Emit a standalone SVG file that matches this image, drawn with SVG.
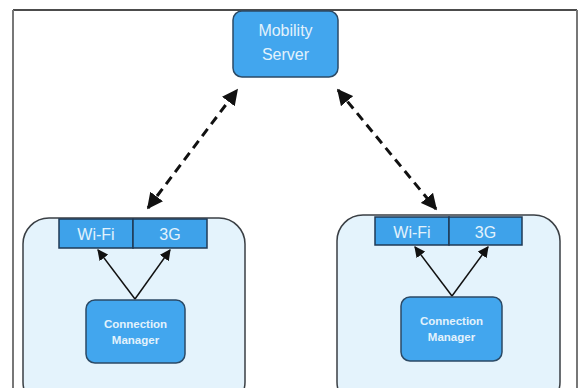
<svg xmlns="http://www.w3.org/2000/svg" width="582" height="388" viewBox="0 0 582 388">
<style>
.container{fill:#e4f3fc;stroke:#3a3f44;stroke-width:1.5}
.blue{fill:#42a6ee;stroke:#2b4a66;stroke-width:1.5}
.bar{fill:#3ea2ea;stroke:#1f3a55;stroke-width:1.5}
.lbl{font-family:"Liberation Sans",Arial,sans-serif;fill:#e2f2fc;text-anchor:middle}
.big{font-size:16px}
.bold{font-size:11.5px;font-weight:bold}
.solid{stroke:#111;stroke-width:1.5;fill:none}
.dash{stroke:#111;stroke-width:3;stroke-dasharray:9 6;fill:none}
</style>
<defs>
<marker id="ah" viewBox="0 0 10 10" refX="9" refY="5" markerWidth="11" markerHeight="11" markerUnits="userSpaceOnUse" orient="auto-start-reverse">
<path d="M0,0 L10,5 L0,10 z" fill="#111"/>
</marker>
<marker id="ahb" viewBox="0 0 10 10" refX="9" refY="5" markerWidth="16" markerHeight="16" markerUnits="userSpaceOnUse" orient="auto-start-reverse">
<path d="M0,0 L10,5 L0,10 z" fill="#111"/>
</marker>
</defs>
<rect width="582" height="388" fill="#fff"/>
<g id="frame">
<line x1="13" y1="10" x2="577" y2="10" stroke="#111" stroke-width="1.5"/>
<line x1="13" y1="10" x2="13" y2="388" stroke="#777" stroke-width="2"/>
<line x1="577" y1="10" x2="577" y2="388" stroke="#777" stroke-width="2"/>
</g>
<g id="mobility-server">
<rect x="233" y="11" width="105" height="66" rx="9" class="blue"/>
<text x="285.5" y="36" class="lbl big">Mobility</text>
<text x="285.5" y="60" class="lbl big">Server</text>
</g>
<g id="left-device">
<rect x="23" y="218" width="222" height="190" rx="26" class="container"/>
</g>
<g id="left-wifi">
<rect x="59" y="219" width="74" height="29" class="bar"/>
<text x="96" y="240" class="lbl big">Wi-Fi</text>
</g>
<g id="left-3g">
<rect x="133" y="219" width="74" height="29" class="bar"/>
<text x="170" y="240" class="lbl big">3G</text>
</g>
<g id="left-cm">
<rect x="86" y="300" width="99" height="63" rx="9" class="blue"/>
<text x="135.5" y="328" class="lbl bold">Connection</text>
<text x="135.5" y="344" class="lbl bold">Manager</text>
</g>
<g id="right-device">
<rect x="337" y="215" width="223" height="193" rx="26" class="container"/>
</g>
<g id="right-wifi">
<rect x="375" y="217" width="74" height="28" class="bar"/>
<text x="412" y="238" class="lbl big">Wi-Fi</text>
</g>
<g id="right-3g">
<rect x="449" y="217" width="73" height="28" class="bar"/>
<text x="485.5" y="238" class="lbl big">3G</text>
</g>
<g id="right-cm">
<rect x="401" y="297" width="101" height="64" rx="9" class="blue"/>
<text x="451.5" y="325" class="lbl bold">Connection</text>
<text x="451.5" y="341" class="lbl bold">Manager</text>
</g>
<g id="connectors">
<line x1="148" y1="208" x2="237" y2="90" class="dash" marker-start="url(#ahb)" marker-end="url(#ahb)"/>
<line x1="338" y1="90" x2="436" y2="209" class="dash" marker-start="url(#ahb)" marker-end="url(#ahb)"/>
<line x1="135" y1="299" x2="98" y2="250" class="solid" marker-end="url(#ah)"/>
<line x1="135" y1="299" x2="170" y2="250" class="solid" marker-end="url(#ah)"/>
<line x1="452" y1="296" x2="415" y2="247" class="solid" marker-end="url(#ah)"/>
<line x1="452" y1="296" x2="488" y2="247" class="solid" marker-end="url(#ah)"/>
</g>
</svg>
